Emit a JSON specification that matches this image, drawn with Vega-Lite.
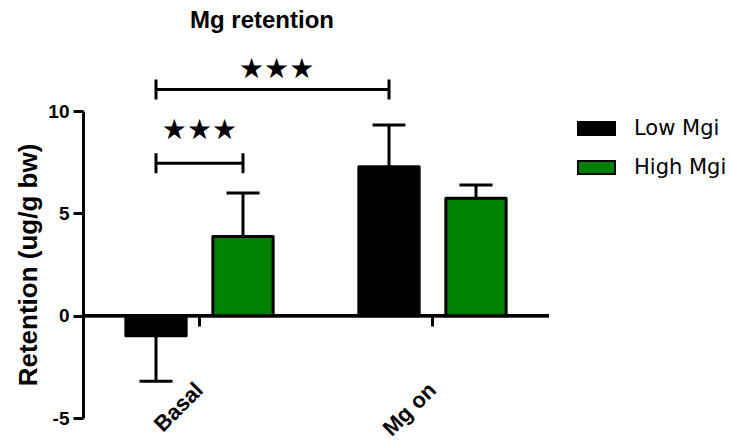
{
  "$schema": "https://vega.github.io/schema/vega-lite/v6.json",
  "width": 466,
  "height": 307,
  "autosize": {"type": "none"},
  "padding": {"left": 83, "top": 111, "right": 181, "bottom": 26},
  "background": "white",
  "config": {"view": {"stroke": null}, "font": "Liberation Sans"},
  "title": {
    "text": "Mg retention",
    "fontSize": 24,
    "fontWeight": "bold",
    "font": "Liberation Sans",
    "color": "black",
    "anchor": "middle",
    "dx": -54,
    "offset": 23
  },
  "datasets": {
    "bars": [
      {"group": "Basal", "series": "Low Mgi", "value": -0.98, "err": -3.2},
      {"group": "Basal", "series": "High Mgi", "value": 3.87, "err": 5.99},
      {"group": "Mg on", "series": "Low Mgi", "value": 7.28, "err": 9.32},
      {"group": "Mg on", "series": "High Mgi", "value": 5.74, "err": 6.39}
    ],
    "brackets": [
      {"bracket": "A", "group": "Basal", "series": "Low Mgi", "y": 11.05},
      {"bracket": "A", "group": "Mg on", "series": "Low Mgi", "y": 11.05},
      {"bracket": "B", "group": "Basal", "series": "Low Mgi", "y": 7.45},
      {"bracket": "B", "group": "Basal", "series": "High Mgi", "y": 7.45}
    ],
    "starsShort": [{"group": "Basal", "y": 9.0, "label": "★★★"}],
    "starsLong": [{"group": "Basal", "series": "High Mgi", "y": 12.0, "label": "★★★"}]
  },
  "layer": [
    {
      "data": {"name": "bars"},
      "mark": {"type": "rule", "color": "black", "strokeWidth": 3},
      "encoding": {"y": {"datum": 0, "type": "quantitative"}}
    },
    {
      "data": {"name": "bars"},
      "mark": {"type": "bar", "stroke": "black", "strokeWidth": 3, "strokeJoin": "round"},
      "encoding": {
        "x": {
          "field": "group",
          "type": "nominal",
          "scale": {"domain": ["Basal", "Mg on"], "paddingInner": 0.2, "paddingOuter": 0.1},
          "axis": {
            "title": null,
            "domain": false,
            "ticks": true,
            "tickColor": "black",
            "tickWidth": 3,
            "tickSize": 10,
            "offset": -102,
            "labelAngle": -45,
            "labelAlign": "right",
            "labelBaseline": "middle",
            "labelPadding": 60,
            "labelFont": "Liberation Sans",
            "labelFontSize": 22,
            "labelFontWeight": "bold",
            "labelColor": "black"
          }
        },
        "xOffset": {
          "field": "series",
          "type": "nominal",
          "scale": {"domain": ["Low Mgi", "High Mgi"], "paddingInner": 0.307, "paddingOuter": 0.225}
        },
        "y": {
          "field": "value",
          "type": "quantitative",
          "scale": {"domain": [-5, 10], "nice": false, "zero": false},
          "axis": {
            "title": "Retention (ug/g bw)",
            "titleFont": "Liberation Sans",
            "titleFontSize": 26,
            "titleFontWeight": "bold",
            "titleColor": "black",
            "titlePadding": 6,
            "values": [-5, 0, 5, 10],
            "labelExpr": "datum.value < 0 ? '-' + abs(datum.value) : '' + datum.value",
            "grid": false,
            "domainColor": "black",
            "domainWidth": 3,
            "tickColor": "black",
            "tickWidth": 3,
            "tickSize": 10,
            "labelFont": "Liberation Sans",
            "labelFontSize": 19,
            "labelFontWeight": "bold",
            "labelColor": "black",
            "labelPadding": 4
          }
        },
        "y2": {"datum": 0},
        "color": {
          "field": "series",
          "type": "nominal",
          "scale": {"domain": ["Low Mgi", "High Mgi"], "range": ["#000000", "#008000"]},
          "legend": {
            "title": null,
            "orient": "none",
            "legendX": 494,
            "legendY": -2,
            "padding": 0,
            "symbolType": "M-1,-0.35L1,-0.35L1,0.35L-1,0.35Z",
            "symbolSize": 1369,
            "symbolStrokeColor": "black",
            "symbolStrokeWidth": 2,
            "symbolOpacity": 1,
            "labelFont": "DejaVu Sans",
            "labelFontSize": 21,
            "labelColor": "black",
            "labelOffset": 18,
            "rowPadding": 9
          }
        }
      }
    },
    {
      "data": {"name": "bars"},
      "mark": {"type": "rule", "color": "black", "strokeWidth": 3},
      "encoding": {
        "x": {"field": "group", "type": "nominal"},
        "xOffset": {"field": "series", "type": "nominal"},
        "y": {"field": "value", "type": "quantitative"},
        "y2": {"field": "err"}
      }
    },
    {
      "data": {"name": "bars"},
      "mark": {"type": "tick", "color": "black", "thickness": 3, "size": 33, "opacity": 1},
      "encoding": {
        "x": {"field": "group", "type": "nominal"},
        "xOffset": {"field": "series", "type": "nominal"},
        "y": {"field": "err", "type": "quantitative"}
      }
    },
    {
      "data": {"name": "brackets"},
      "mark": {"type": "line", "color": "black", "strokeWidth": 3},
      "encoding": {
        "x": {"field": "group", "type": "nominal"},
        "xOffset": {"field": "series", "type": "nominal"},
        "y": {"field": "y", "type": "quantitative"},
        "detail": {"field": "bracket"}
      }
    },
    {
      "data": {"name": "brackets"},
      "mark": {"type": "tick", "orient": "vertical", "color": "black", "thickness": 3, "size": 20, "opacity": 1},
      "encoding": {
        "x": {"field": "group", "type": "nominal"},
        "xOffset": {"field": "series", "type": "nominal"},
        "y": {"field": "y", "type": "quantitative"}
      }
    },
    {
      "data": {"name": "starsShort"},
      "mark": {"type": "text", "font": "DejaVu Sans", "fontSize": 28, "color": "black", "align": "center", "baseline": "middle"},
      "encoding": {
        "x": {"field": "group", "type": "nominal"},
        "y": {"field": "y", "type": "quantitative"},
        "text": {"field": "label"}
      }
    },
    {
      "data": {"name": "starsLong"},
      "mark": {"type": "text", "font": "DejaVu Sans", "fontSize": 28, "color": "black", "align": "left", "baseline": "middle", "dx": -4},
      "encoding": {
        "x": {"field": "group", "type": "nominal"},
        "xOffset": {"field": "series", "type": "nominal"},
        "y": {"field": "y", "type": "quantitative"},
        "text": {"field": "label"}
      }
    }
  ]
}
